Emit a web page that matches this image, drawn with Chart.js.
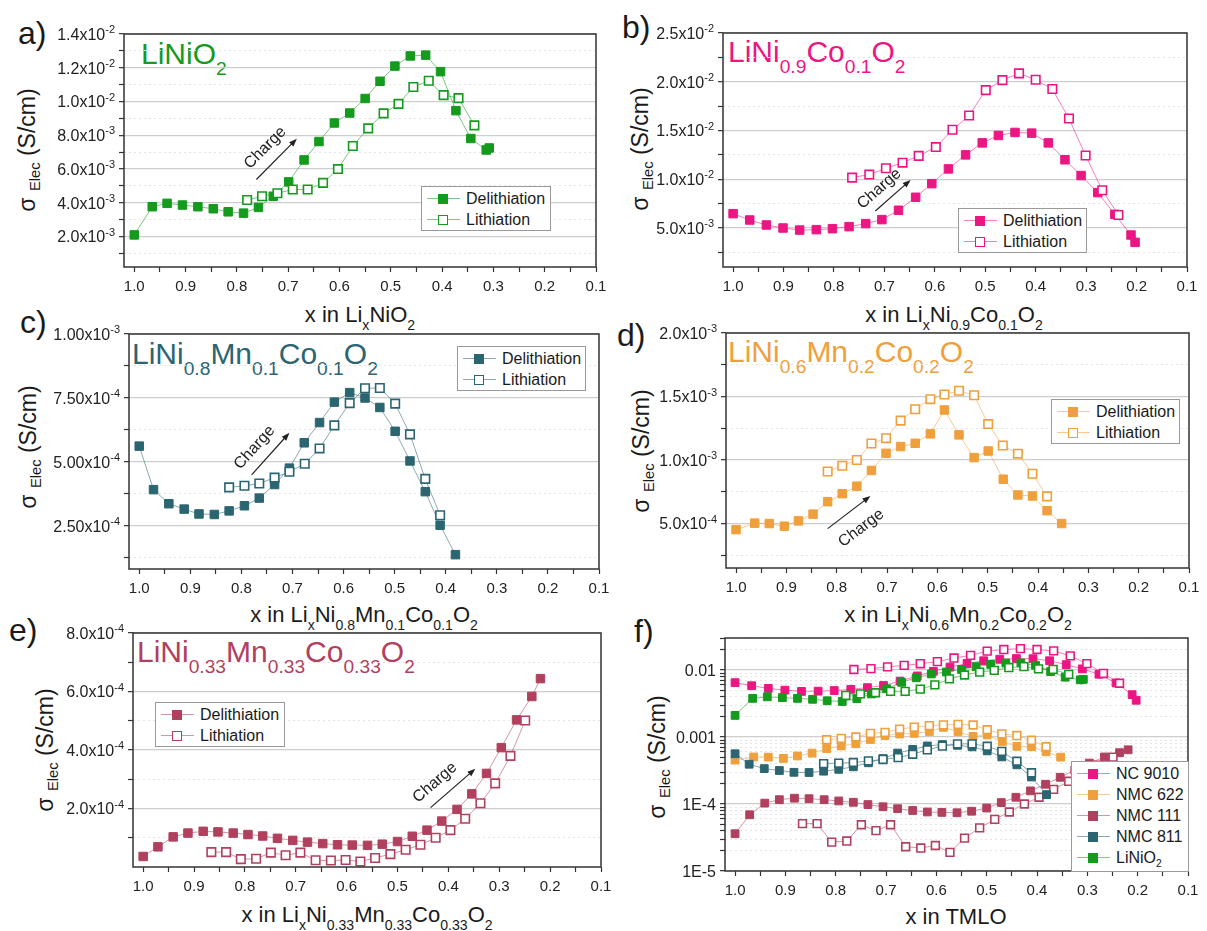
<!DOCTYPE html>
<html>
<head>
<meta charset="utf-8">
<title>Electronic conductivity vs. lithium content</title>
<script src="https://cdn.jsdelivr.net/npm/chart.js@4.4.1/dist/chart.umd.min.js"></script>
<style>
  body { margin:0; width:1207px; height:931px; position:relative; overflow:hidden; background:#fff;
         font-family:'Liberation Sans', Arial, sans-serif; color:#1a1a1a; }
  canvas { position:absolute; }
  .txt { position:absolute; white-space:nowrap; line-height:1; }
  .txt sub { font-size:0.64em; vertical-align:baseline; position:relative; top:0.55em; }
  .letter { font-size:32px; }
  .compound { font-size:30px; }
  .xtitle { font-size:22px; transform:translateX(-50%); }
  .ytitle { font-size:23px; transform:translate(-50%,-50%) rotate(-90deg); }
  .ytitle sub { top:0.35em; }
  .legend { position:absolute; background:#fff; border:1px solid #9a9a9a; box-sizing:border-box; font-size:16px; padding-top:1px; }
  .legend-item { display:flex; align-items:center; height:21px; white-space:nowrap; }
  .legend-item sub { font-size:0.64em; vertical-align:baseline; position:relative; top:0.45em; }
  .legend-mark { position:relative; width:44px; height:21px; flex:none; }
  .legend-mark .ln { position:absolute; left:5px; width:33px; top:10px; height:1px; }
  .legend-mark .sq { position:absolute; left:16px; top:6px; width:10px; height:10px; box-sizing:border-box; }
</style>
</head>
<body>

<div class="txt letter" style="left:18px;top:17px">a)</div>
<div class="txt letter" style="left:622px;top:11px">b)</div>
<div class="txt letter" style="left:20px;top:306px">c)</div>
<div class="txt letter" style="left:617px;top:319px">d)</div>
<div class="txt letter" style="left:9px;top:614px">e)</div>
<div class="txt letter" style="left:634px;top:615px">f)</div>

<div class="txt compound" style="left:141px;top:39px;color:#149a1c">LiNiO<sub>2</sub></div>
<div class="txt compound" style="left:728px;top:37px;color:#ec1683">LiNi<sub>0.9</sub>Co<sub>0.1</sub>O<sub>2</sub></div>
<div class="txt compound" style="left:132px;top:339px;color:#2b6571">LiNi<sub>0.8</sub>Mn<sub>0.1</sub>Co<sub>0.1</sub>O<sub>2</sub></div>
<div class="txt compound" style="left:728px;top:337px;color:#efa03c">LiNi<sub>0.6</sub>Mn<sub>0.2</sub>Co<sub>0.2</sub>O<sub>2</sub></div>
<div class="txt compound" style="left:137px;top:637px;color:#b1405e">LiNi<sub>0.33</sub>Mn<sub>0.33</sub>Co<sub>0.33</sub>O<sub>2</sub></div>

<div class="txt xtitle" style="left:360px;top:304px">x in Li<sub>x</sub>NiO<sub>2</sub></div>
<div class="txt xtitle" style="left:954px;top:304px">x in Li<sub>x</sub>Ni<sub>0.9</sub>Co<sub>0.1</sub>O<sub>2</sub></div>
<div class="txt xtitle" style="left:364px;top:604px">x in Li<sub>x</sub>Ni<sub>0.8</sub>Mn<sub>0.1</sub>Co<sub>0.1</sub>O<sub>2</sub></div>
<div class="txt xtitle" style="left:958px;top:604px">x in Li<sub>x</sub>Ni<sub>0.6</sub>Mn<sub>0.2</sub>Co<sub>0.2</sub>O<sub>2</sub></div>
<div class="txt xtitle" style="left:367px;top:904px">x in Li<sub>x</sub>Ni<sub>0.33</sub>Mn<sub>0.33</sub>Co<sub>0.33</sub>O<sub>2</sub></div>
<div class="txt xtitle" style="left:956px;top:906px">x in TMLO</div>

<div class="txt ytitle" style="left:27px;top:150px">σ <sub>Elec</sub> (S/cm)</div>
<div class="txt ytitle" style="left:640px;top:149px">σ <sub>Elec</sub> (S/cm)</div>
<div class="txt ytitle" style="left:28px;top:447px">σ <sub>Elec</sub> (S/cm)</div>
<div class="txt ytitle" style="left:641px;top:451px">σ <sub>Elec</sub> (S/cm)</div>
<div class="txt ytitle" style="left:45px;top:750px">σ <sub>Elec</sub> (S/cm)</div>
<div class="txt ytitle" style="left:657px;top:757px">σ <sub>Elec</sub> (S/cm)</div>

<script>
// shared x axis
const xTicks = [0.1, 0.2, 0.3, 0.4, 0.5, 0.6, 0.7, 0.8, 0.9, 1.0];
const xTickLabels = ['0.1', '0.2', '0.3', '0.4', '0.5', '0.6', '0.7', '0.8', '0.9', '1.0'];

// LiNiO2
const lnoDelX = [1.0, 0.965, 0.936, 0.906, 0.876, 0.846, 0.817, 0.787, 0.758, 0.729, 0.699, 0.669, 0.640, 0.610, 0.580, 0.550, 0.521, 0.492, 0.462, 0.432, 0.403, 0.373, 0.344, 0.314, 0.308];
const lnoDelY = [2.1e-3, 3.77e-3, 3.97e-3, 3.87e-3, 3.77e-3, 3.65e-3, 3.47e-3, 3.39e-3, 3.73e-3, 4.39e-3, 5.24e-3, 6.54e-3, 7.63e-3, 8.73e-3, 9.32e-3, 10.18e-3, 11.2e-3, 12.1e-3, 12.7e-3, 12.75e-3, 11.77e-3, 9.46e-3, 7.81e-3, 7.13e-3, 7.25e-3];
const lnoLitX = [0.780, 0.751, 0.721, 0.691, 0.662, 0.632, 0.603, 0.574, 0.544, 0.514, 0.485, 0.456, 0.426, 0.397, 0.368, 0.337];
const lnoLitY = [4.17e-3, 4.39e-3, 4.57e-3, 4.79e-3, 4.79e-3, 5.18e-3, 6.0e-3, 7.37e-3, 8.41e-3, 9.3e-3, 9.86e-3, 10.86e-3, 11.23e-3, 10.38e-3, 10.2e-3, 8.59e-3];

// LiNi0.9Co0.1O2 (NC 9010)
const ncDelX = [1.0, 0.967, 0.934, 0.901, 0.868, 0.835, 0.803, 0.770, 0.737, 0.705, 0.672, 0.638, 0.606, 0.573, 0.539, 0.506, 0.474, 0.441, 0.408, 0.375, 0.342, 0.310, 0.277, 0.243, 0.211, 0.203];
const ncDelY = [6.47e-3, 5.82e-3, 5.31e-3, 5.0e-3, 4.79e-3, 4.83e-3, 4.93e-3, 5.14e-3, 5.45e-3, 5.86e-3, 6.82e-3, 8.15e-3, 9.55e-3, 11.06e-3, 12.5e-3, 13.73e-3, 14.49e-3, 14.8e-3, 14.73e-3, 13.73e-3, 12.0e-3, 10.38e-3, 8.63e-3, 6.4e-3, 4.28e-3, 3.53e-3];
const ncLitX = [0.764, 0.730, 0.697, 0.664, 0.632, 0.598, 0.565, 0.532, 0.499, 0.466, 0.433, 0.400, 0.367, 0.334, 0.301, 0.268, 0.236];
const ncLitY = [10.17e-3, 10.48e-3, 11.13e-3, 11.7e-3, 12.4e-3, 13.3e-3, 15.07e-3, 16.54e-3, 19.14e-3, 20.17e-3, 20.86e-3, 20.2e-3, 19.25e-3, 16.23e-3, 12.43e-3, 8.87e-3, 6.34e-3];

// LiNi0.8Mn0.1Co0.1O2 (NMC 811)
const n811DelX = [1.0, 0.972, 0.942, 0.912, 0.883, 0.853, 0.824, 0.794, 0.765, 0.735, 0.706, 0.677, 0.647, 0.618, 0.588, 0.558, 0.529, 0.499, 0.470, 0.440, 0.411, 0.381];
const n811DelY = [5.62e-4, 3.92e-4, 3.37e-4, 3.16e-4, 2.97e-4, 2.95e-4, 3.09e-4, 3.29e-4, 3.59e-4, 4.12e-4, 4.76e-4, 5.75e-4, 6.54e-4, 7.34e-4, 7.71e-4, 7.5e-4, 7.13e-4, 6.2e-4, 5.04e-4, 3.84e-4, 2.53e-4, 1.38e-4];
const n811LitX = [0.824, 0.794, 0.765, 0.735, 0.706, 0.676, 0.647, 0.618, 0.588, 0.558, 0.529, 0.499, 0.470, 0.440, 0.411];
const n811LitY = [4.01e-4, 4.07e-4, 4.16e-4, 4.39e-4, 4.62e-4, 4.93e-4, 5.53e-4, 6.43e-4, 7.3e-4, 7.88e-4, 7.89e-4, 7.28e-4, 6.08e-4, 4.34e-4, 2.92e-4];

// LiNi0.6Mn0.2Co0.2O2 (NMC 622)
const n622DelX = [1.0, 0.963, 0.934, 0.904, 0.876, 0.847, 0.818, 0.789, 0.760, 0.731, 0.702, 0.673, 0.644, 0.614, 0.586, 0.557, 0.527, 0.499, 0.469, 0.440, 0.411, 0.382, 0.353];
const n622DelY = [4.52e-4, 5.03e-4, 5.0e-4, 4.79e-4, 5.21e-4, 5.74e-4, 6.72e-4, 7.35e-4, 7.94e-4, 9.18e-4, 10.53e-4, 11.06e-4, 11.32e-4, 12.06e-4, 13.94e-4, 11.98e-4, 10.19e-4, 10.71e-4, 8.49e-4, 7.25e-4, 7.17e-4, 6.01e-4, 5.0e-4];
const n622LitX = [0.818, 0.789, 0.760, 0.731, 0.702, 0.673, 0.644, 0.614, 0.586, 0.557, 0.527, 0.499, 0.470, 0.440, 0.411, 0.382];
const n622LitY = [9.1e-4, 9.55e-4, 10.0e-4, 11.3e-4, 11.72e-4, 13.1e-4, 14.0e-4, 14.79e-4, 15.16e-4, 15.45e-4, 15.1e-4, 12.83e-4, 11.14e-4, 10.5e-4, 8.92e-4, 7.14e-4];

// LiNi0.33Mn0.33Co0.33O2 (NMC 111)
const n111DelX = [1.0, 0.971, 0.941, 0.912, 0.882, 0.853, 0.823, 0.794, 0.765, 0.736, 0.706, 0.677, 0.647, 0.618, 0.589, 0.559, 0.530, 0.500, 0.471, 0.442, 0.413, 0.383, 0.354, 0.325, 0.296, 0.266, 0.236, 0.219];
const n111DelY = [0.36e-4, 0.69e-4, 1.03e-4, 1.16e-4, 1.22e-4, 1.2e-4, 1.16e-4, 1.11e-4, 1.06e-4, 0.98e-4, 0.91e-4, 0.85e-4, 0.8e-4, 0.76e-4, 0.75e-4, 0.74e-4, 0.78e-4, 0.87e-4, 1.05e-4, 1.26e-4, 1.57e-4, 1.97e-4, 2.5e-4, 3.2e-4, 4.08e-4, 5.03e-4, 5.83e-4, 6.44e-4];
const n111LitX = [0.866, 0.837, 0.808, 0.778, 0.749, 0.720, 0.691, 0.661, 0.631, 0.602, 0.573, 0.544, 0.514, 0.484, 0.455, 0.425, 0.396, 0.367, 0.337, 0.308, 0.278, 0.249];
const n111LitY = [0.51e-4, 0.51e-4, 0.27e-4, 0.28e-4, 0.49e-4, 0.40e-4, 0.49e-4, 0.23e-4, 0.22e-4, 0.24e-4, 0.19e-4, 0.31e-4, 0.44e-4, 0.59e-4, 0.76e-4, 1.0e-4, 1.26e-4, 1.65e-4, 2.18e-4, 2.86e-4, 3.8e-4, 5.01e-4];

// y tick values and labels per panel ("^" marks the exponent)
const aYTicks = [0.002, 0.004, 0.006, 0.008, 0.010, 0.012, 0.014];
const aYLabels = ['2.0x10^-3', '4.0x10^-3', '6.0x10^-3', '8.0x10^-3', '1.0x10^-2', '1.2x10^-2', '1.4x10^-2'];
const bYTicks = [0.005, 0.010, 0.015, 0.020, 0.025];
const bYLabels = ['5.0x10^-3', '1.0x10^-2', '1.5x10^-2', '2.0x10^-2', '2.5x10^-2'];
const cYTicks = [2.5e-4, 5.0e-4, 7.5e-4, 1.0e-3];
const cYLabels = ['2.50x10^-4', '5.00x10^-4', '7.50x10^-4', '1.00x10^-3'];
const dYTicks = [5e-4, 1.0e-3, 1.5e-3, 2.0e-3];
const dYLabels = ['5.0x10^-4', '1.0x10^-3', '1.5x10^-3', '2.0x10^-3'];
const eYTicks = [2e-4, 4e-4, 6e-4, 8e-4];
const eYLabels = ['2.0x10^-4', '4.0x10^-4', '6.0x10^-4', '8.0x10^-4'];
const fYTicks = [1e-5, 1e-4, 1e-3, 1e-2];
const fYLabels = ['1E-5', '1E-4', '0.001', '0.01'];

const colLNO = '#149a1c', colNC = '#ec1683', colN811 = '#2b6571', colN622 = '#efa03c', colN111 = '#b1405e';
const FONT = "'Liberation Sans', Arial, sans-serif";
Chart.defaults.font.family = FONT;

function near(a, b) { return Math.abs(a - b) <= Math.abs(b) * 1e-6 + 1e-12; }

function makeSeries(xs, ys, color, open, radius) {
    return {
        data: xs.map((x, i) => ({ x, y: ys[i] })),
        showLine: true,
        borderColor: color + '8c',
        borderWidth: 1,
        pointStyle: 'rect',
        pointRadius: radius,
        pointBackgroundColor: open ? '#ffffff' : color,
        pointBorderColor: color,
        pointBorderWidth: open ? 1.6 : 1
    };
}

function minorLinear(major, min, max) {
    const step = major[1] - major[0], out = [];
    for (let v = major[0] - step / 2; v < max; v += step) if (v > min) out.push(v);
    return out;
}
function minorLog(major, max) {
    const out = [];
    major.forEach(d => { for (let k = 2; k <= 9; k++) if (k * d <= max) out.push(k * d); });
    return out;
}

// frame around the plot area
const framePlugin = {
    id: 'frame',
    afterDraw(chart) {
        const { ctx, chartArea: a } = chart;
        ctx.save();
        ctx.strokeStyle = '#333';
        ctx.lineWidth = 1.5;
        ctx.strokeRect(a.left, a.top, a.right - a.left, a.bottom - a.top);
        ctx.restore();
    }
};

// y tick labels with a raised exponent, placed at the y scale's tick pixels
const sciTickPlugin = {
    id: 'sciTicks',
    afterDraw(chart, args, o) {
        const { ctx, chartArea } = chart;
        const y = chart.scales.y;
        const xr = chartArea.left - 9;
        ctx.save();
        ctx.fillStyle = '#222';
        ctx.textAlign = 'left';
        ctx.textBaseline = 'alphabetic';
        o.values.forEach((v, i) => {
            const [base, exp] = o.labels[i].split('^');
            const py = y.getPixelForValue(v);
            const baseFont = o.size + 'px ' + FONT, expFont = o.expSize + 'px ' + FONT;
            ctx.font = expFont;
            const ew = exp ? ctx.measureText(exp).width : 0;
            ctx.font = baseFont;
            const bw = ctx.measureText(base).width;
            const baseline = py + o.size * 0.36;
            ctx.fillText(base, xr - bw - ew, baseline);
            if (exp) {
                ctx.font = expFont;
                ctx.fillText(exp, xr - ew, baseline - o.size * 0.42);
            }
        });
        ctx.restore();
    }
};

// "Charge" arrow, positioned in data space
const chargePlugin = {
    id: 'charge',
    afterDatasetsDraw(chart, args, o) {
        if (!o || !o.from) return;
        const { ctx, scales: { x, y } } = chart;
        const x0 = x.getPixelForValue(o.from[0]), y0 = y.getPixelForValue(o.from[1]);
        const x1 = x.getPixelForValue(o.to[0]), y1 = y.getPixelForValue(o.to[1]);
        const ang = Math.atan2(y1 - y0, x1 - x0);
        ctx.save();
        ctx.strokeStyle = '#222'; ctx.fillStyle = '#222'; ctx.lineWidth = 1.2;
        ctx.beginPath();
        ctx.moveTo(x0, y0);
        ctx.lineTo(x1 - 6 * Math.cos(ang), y1 - 6 * Math.sin(ang));
        ctx.stroke();
        ctx.translate(x1, y1); ctx.rotate(ang);
        ctx.beginPath(); ctx.moveTo(0, 0); ctx.lineTo(-8, -3); ctx.lineTo(-8, 3); ctx.closePath(); ctx.fill();
        ctx.restore();
        ctx.save();
        ctx.translate((x0 + x1) / 2, (y0 + y1) / 2); ctx.rotate(ang);
        ctx.font = '16px ' + FONT;
        ctx.fillStyle = '#222';
        ctx.textAlign = 'center'; ctx.textBaseline = 'middle';
        ctx.fillText('Charge', o.along || 0, -o.off);
        ctx.restore();
    }
};

function makeLegend(box, items) {
    const div = document.createElement('div');
    div.className = 'legend';
    div.style.left = box[0] + 'px'; div.style.top = box[1] + 'px';
    div.style.width = (box[2] - box[0]) + 'px'; div.style.height = (box[3] - box[1]) + 'px';
    div.innerHTML = items.map(it => {
        const sq = it.open ? `border:1.6px solid ${it.color};background:#fff` : `background:${it.color}`;
        return `<div class="legend-item"><div class="legend-mark"><div class="ln" style="background:${it.color}8c"></div><div class="sq" style="${sq}"></div></div><span>${it.label}</span></div>`;
    }).join('');
    document.body.appendChild(div);
}

function makePanel(p) {
    const [L, T, R, B] = p.box;
    const padL = 100, padT = 14, padR = 14, padB = 32;
    const cv = document.createElement('canvas');
    cv.width = R - L + padL + padR;
    cv.height = B - T + padT + padB;
    cv.style.left = (L - padL) + 'px';
    cv.style.top = (T - padT) + 'px';
    document.body.appendChild(cv);

    const xMinor = minorLinear(xTicks, 0.1, 1.02);
    const yMinor = p.log ? minorLog(p.yTicks, p.yMax) : minorLinear(p.yTicks, p.yMin, p.yMax);
    const isMajorY = v => p.yTicks.some(m => near(v, m));

    new Chart(cv, {
        type: 'scatter',
        data: { datasets: p.series.map(s => makeSeries(s.xs, s.ys, s.color, s.open, p.radius)) },
        options: {
            responsive: false,
            animation: false,
            layout: { padding: { top: padT, right: padR, left: 0, bottom: 0 } },
            plugins: {
                legend: { display: false }, tooltip: { enabled: false },
                charge: p.charge || false,
                sciTicks: { values: p.yTicks, labels: p.yLabels, size: 16, expSize: 11 }
            },
            scales: {
                x: {
                    type: 'linear', reverse: true, min: 0.1, max: 1.02,
                    afterBuildTicks: s => { s.ticks = xTicks.concat(xMinor).sort((a, b) => a - b).map(v => ({ value: v })); },
                    afterFit: s => { s.height = padB; },
                    ticks: {
                        autoSkip: false, maxRotation: 0, minRotation: 0, padding: 6,
                        color: '#222', font: { size: 15 },
                        callback: v => { const i = xTicks.findIndex(m => near(v, m)); return i >= 0 ? xTickLabels[i] : ''; }
                    },
                    grid: { drawOnChartArea: false, tickLength: 5, tickColor: '#333', tickWidth: 1.2 },
                    border: { display: false }
                },
                y: {
                    type: p.log ? 'logarithmic' : 'linear', min: p.yMin, max: p.yMax,
                    afterBuildTicks: s => { s.ticks = p.yTicks.concat(yMinor).sort((a, b) => a - b).map(v => ({ value: v })); },
                    afterFit: s => { s.width = padL; },
                    ticks: { autoSkip: false, padding: 4, font: { size: 15 }, callback: () => '' },
                    grid: {
                        color: c => (c.tick && isMajorY(c.tick.value)) ? '#cdcdcd' : '#e4e4e4',
                        lineWidth: c => (c.tick && isMajorY(c.tick.value)) ? 1.3 : 1,
                        tickLength: 5, tickColor: '#333', tickWidth: 1.2
                    },
                    border: { display: false, dash: c => (c.tick && !isMajorY(c.tick.value)) ? [2, 3] : [] }
                }
            }
        },
        plugins: [chargePlugin, sciTickPlugin, framePlugin]
    });
}

const delLit = (xsD, ysD, xsL, ysL, color) => [
    { xs: xsL, ys: ysL, color, open: true },
    { xs: xsD, ys: ysD, color, open: false }
];
const twoItems = color => [
    { label: 'Delithiation', color, open: false },
    { label: 'Lithiation', color, open: true }
];

const panels = [
    { box: [124, 34, 596, 267], yMin: 2e-4, yMax: 0.014, yTicks: aYTicks, yLabels: aYLabels, radius: 6,
      series: delLit(lnoDelX, lnoDelY, lnoLitX, lnoLitY, colLNO),
      charge: { from: [0.762, 5.38e-3], to: [0.683, 7.8e-3], off: 16, along: 0 },
      legend: { box: [421, 186, 551, 231], items: twoItems(colLNO) } },
    { box: [723, 33, 1187, 267], yMin: 1e-3, yMax: 0.025, yTicks: bYTicks, yLabels: bYLabels, radius: 6,
      series: delLit(ncDelX, ncDelY, ncLitX, ncLitY, colNC),
      charge: { from: [0.718, 6.75e-3], to: [0.648, 9.93e-3], off: 14, along: -6 },
      legend: { box: [958, 208, 1087, 253], items: twoItems(colNC) } },
    { box: [129, 334, 599, 569], yMin: 8.2e-5, yMax: 1.0e-3, yTicks: cYTicks, yLabels: cYLabels, radius: 6,
      series: delLit(n811DelX, n811DelY, n811LitX, n811LitY, colN811),
      charge: { from: [0.780, 4.5e-4], to: [0.706, 6.14e-4], off: 16, along: -6 },
      legend: { box: [457, 346, 586, 391], items: twoItems(colN811) } },
    { box: [726, 333, 1189, 568], yMin: 1.5e-4, yMax: 2.0e-3, yTicks: dYTicks, yLabels: dYLabels, radius: 6,
      series: delLit(n622DelX, n622DelY, n622LitX, n622LitY, colN622),
      charge: { from: [0.818, 4.6e-4], to: [0.733, 7.17e-4], off: -20, along: 0 },
      legend: { box: [1051, 399, 1180, 444], items: twoItems(colN622) } },
    { box: [133, 633, 601, 867], yMin: 0, yMax: 8e-4, yTicks: eYTicks, yLabels: eYLabels, radius: 6,
      series: delLit(n111DelX, n111DelY, n111LitX, n111LitY, colN111),
      charge: { from: [0.435, 2.03e-4], to: [0.347, 3.36e-4], off: 16, along: -10 },
      legend: { box: [155, 702, 285, 747], items: twoItems(colN111) } },
    { box: [725, 638, 1188, 871], yMin: 1e-5, yMax: 0.03, yTicks: fYTicks, yLabels: fYLabels, radius: 5.5, log: true,
      series: [].concat(
          delLit(lnoDelX, lnoDelY, lnoLitX, lnoLitY, colLNO),
          delLit(n811DelX, n811DelY, n811LitX, n811LitY, colN811),
          delLit(n111DelX, n111DelY, n111LitX, n111LitY, colN111),
          delLit(n622DelX, n622DelY, n622LitX, n622LitY, colN622),
          delLit(ncDelX, ncDelY, ncLitX, ncLitY, colNC)),
      legend: { box: [1071, 761, 1189, 872], items: [
          { label: 'NC 9010', color: colNC, open: false },
          { label: 'NMC 622', color: colN622, open: false },
          { label: 'NMC 111', color: colN111, open: false },
          { label: 'NMC 811', color: colN811, open: false },
          { label: 'LiNiO<sub>2</sub>', color: colLNO, open: false }
      ] } }
];

panels.forEach(p => {
    makePanel(p);
    makeLegend(p.legend.box, p.legend.items);
});
</script>
</body>
</html>
